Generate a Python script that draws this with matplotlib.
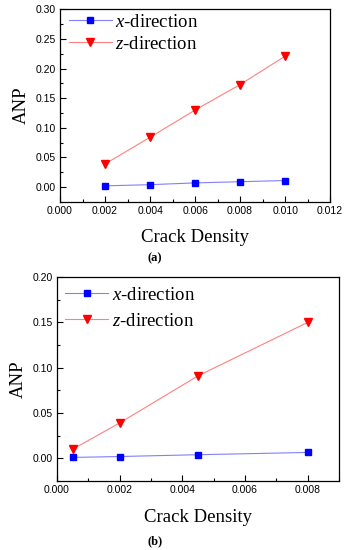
import matplotlib
matplotlib.use('Agg')
import matplotlib.pyplot as plt
from matplotlib.ticker import MultipleLocator, FormatStrFormatter

# panel (a)
density_a = [0.002, 0.004, 0.006, 0.008, 0.010]
anp_x_a = [0.002, 0.004, 0.007, 0.009, 0.011]
anp_z_a = [0.039, 0.084, 0.130, 0.173, 0.221]

# panel (b)
density_b = [0.0005, 0.002, 0.0045, 0.008]
anp_x_b = [0.001, 0.002, 0.004, 0.0065]
anp_z_b = [0.010, 0.039, 0.091, 0.150]

plt.rcParams['font.family'] = 'Liberation Sans'
plt.rcParams['xtick.direction'] = 'in'
plt.rcParams['ytick.direction'] = 'in'
plt.rcParams['mathtext.fontset'] = 'custom'
plt.rcParams['mathtext.it'] = 'Liberation Serif:italic'
plt.rcParams['mathtext.rm'] = 'Liberation Serif'

fig = plt.figure(figsize=(3.49, 5.50), dpi=100)
ax1 = fig.add_axes([0.172, 0.633, 0.774, 0.350])
ax2 = fig.add_axes([0.163, 0.1255, 0.808, 0.3705])

serif = 'Liberation Serif'


def draw(ax, xs, ya, yb, xlim, ylim, xmaj, ymaj, spacing, legend_y, xpad):
    ax.plot(xs, ya, color='#8080ff', lw=0.8, marker='s', ms=4.2,
            mfc='#0000ff', mec='#0000ff', label=r'$x$-direction')
    ax.plot(xs, yb, color='#ff8080', lw=0.8, marker='v', ms=6,
            mfc='#ff0000', mec='#ff0000', label=r'$z$-direction')
    ax.set_xlim(*xlim)
    ax.set_ylim(*ylim)
    ax.xaxis.set_major_locator(MultipleLocator(xmaj))
    ax.xaxis.set_minor_locator(MultipleLocator(xmaj / 2))
    ax.yaxis.set_major_locator(MultipleLocator(ymaj))
    ax.yaxis.set_minor_locator(MultipleLocator(ymaj / 2))
    ax.xaxis.set_major_formatter(FormatStrFormatter('%.3f'))
    ax.yaxis.set_major_formatter(FormatStrFormatter('%.2f'))
    ax.tick_params(which='major', length=4, width=0.8, labelsize=7.5, pad=3)
    ax.tick_params(which='minor', length=2.5, width=0.8)
    for s in ax.spines.values():
        s.set_linewidth(0.9)
    ax.set_xlabel('Crack Density', fontfamily=serif, fontsize=13.5, labelpad=xpad)
    ax.set_ylabel('ANP', fontfamily=serif, fontsize=13.5, labelpad=4)
    ax.legend(loc='upper left', bbox_to_anchor=(-0.01, legend_y), frameon=False,
              prop={'family': serif, 'size': 13.5}, handlelength=2.3,
              handletextpad=0.2, labelspacing=spacing, borderaxespad=0.2)


draw(ax1, density_a, anp_x_a, anp_z_a, (0, 0.012), (-0.025, 0.30),
     0.002, 0.05, 0.25, 1.035, 9)
draw(ax2, density_b, anp_x_b, anp_z_b, (0, 0.009), (-0.025, 0.20),
     0.002, 0.05, 0.5, 1.01, 10)

fig.text(0.444, 1 - 258 / 550, '(a)', fontfamily=serif, fontweight='bold',
         fontsize=9, ha='center', va='center')
fig.text(0.444, 1 - 541 / 550, '(b)', fontfamily=serif, fontweight='bold',
         fontsize=9, ha='center', va='center')

fig.savefig('out.png', dpi=100)
